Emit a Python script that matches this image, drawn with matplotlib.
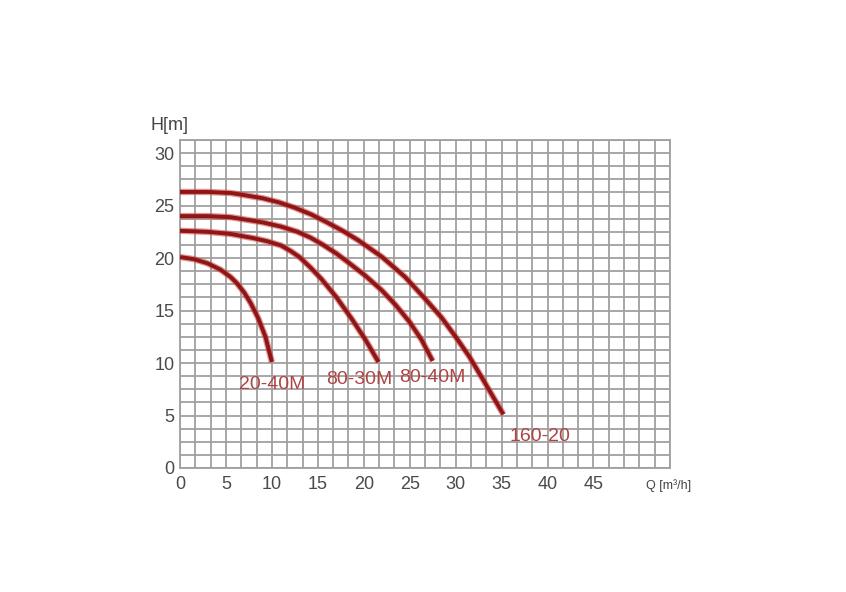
import matplotlib.pyplot as plt
import numpy as np

plt.rcParams['font.family'] = ['Liberation Sans', 'DejaVu Sans']

# Pump curves: Q [m3/h] -> H [m]
q_2040 = [0, 1.5, 3, 4.4, 5.5, 6.2, 7, 7.7, 8.5, 9.3, 10]
h_2040 = [20.1, 19.9, 19.5, 18.9, 18.2, 17.6, 16.7, 15.7, 14.3, 12.5, 10.1]

q_8030 = [0, 3, 5.5, 8, 9.5, 11, 12, 13, 14.2, 15.4, 17, 18.7, 20.2, 21.6]
h_8030 = [22.6, 22.5, 22.3, 21.9, 21.6, 21.2, 20.7, 20.1, 19.1, 18.0, 16.3, 14.2, 12.2, 10.1]

q_8040 = [0, 3, 5.5, 9, 11, 12.8, 14.2, 15.5, 17, 18.3, 20.2, 22, 23.5, 25, 26.3, 27.5]
h_8040 = [24.0, 24.0, 23.9, 23.4, 23.0, 22.5, 21.95, 21.3, 20.45, 19.6, 18.3, 16.9, 15.5, 13.9, 12.2, 10.2]

q_16020 = [0, 3, 5.5, 7, 9, 10.8, 12.5, 14.3, 16, 17.7, 19.4, 22, 24.5, 26.7, 28.5, 30, 31.5, 33, 35.2]
h_16020 = [26.3, 26.3, 26.2, 26.0, 25.7, 25.3, 24.8, 24.15, 23.4, 22.6, 21.7, 20.1, 18.2, 16.1, 14.3, 12.5, 10.6, 8.4, 5.1]

curve_names = ['20-40M', '80-30M', '80-40M', '160-20']
label_pos = [(10, 8.0), (19.5, 8.4), (27.5, 8.6), (39.2, 3.0)]

x_ticks = [0, 5, 10, 15, 20, 25, 30, 35, 40, 45]
y_ticks = [0, 5, 10, 15, 20, 25, 30]

fig = plt.figure(figsize=(8.46, 5.92), dpi=100)
ax = fig.add_axes([180 / 846, 1 - 468 / 592, 490 / 846, 328 / 592])

xmax = 32 * 5 / 3
ymax = 25 * 1.25
grid_col = '#a0a0a0'
for gx in np.arange(0, xmax + 0.01, 5 / 3):
    ax.axvline(gx, color=grid_col, lw=1.3, zorder=1)
for gy in np.arange(0, ymax + 0.01, 1.25):
    ax.axhline(gy, color=grid_col, lw=1.3, zorder=1)

curves = [(q_2040, h_2040), (q_8030, h_8030), (q_8040, h_8040), (q_16020, h_16020)]
for q, h in curves:
    ax.plot(q, h, color='#d44a4a', lw=4.6, alpha=0.6, solid_capstyle='butt',
            solid_joinstyle='round', zorder=3)
    ax.plot(q, h, color='#8e1616', lw=2.8, solid_capstyle='butt',
            solid_joinstyle='round', zorder=4)

for name, (lx, ly) in zip(curve_names, label_pos):
    ax.text(lx, ly, name, color='#b04444', fontsize=14, ha='center', va='center', zorder=5)

ax.set_xlim(0, xmax)
ax.set_ylim(0, ymax)
ax.set_xticks(x_ticks)
ax.set_yticks(y_ticks)
ax.tick_params(length=0, labelsize=13, labelcolor='#4a4a4a')
ax.tick_params(axis='x', pad=6)
ax.tick_params(axis='y', pad=4)
for s in ax.spines.values():
    s.set_color(grid_col)
    s.set_linewidth(1.3)

fig.text(150 / 846, 1 - 134 / 592, 'H[m]', fontsize=13, color='#444444', ha='left', va='bottom')
fig.text(646 / 846, 1 - 492 / 592, 'Q [m³/h]', fontsize=9, color='#444444', ha='left', va='bottom')

fig.savefig('out.png', dpi=100, facecolor='white')
